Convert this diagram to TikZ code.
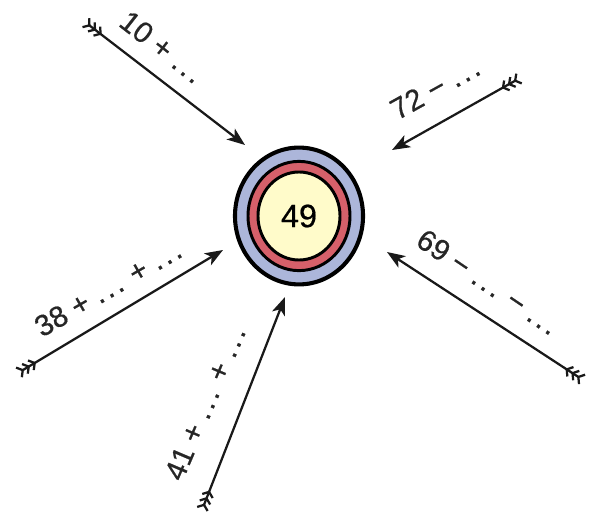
\documentclass[tikz,border=0pt]{standalone}
\usepackage{fontspec}
\setmainfont{Liberation Sans}
\newfontfamily\lblfont{Liberation Sans}[FakeBold=0.6]
\usetikzlibrary{arrows.meta,shapes.geometric}
\definecolor{ringblue}{RGB}{172,182,218}
\definecolor{ringred}{RGB}{214,96,106}
\definecolor{bull}{RGB}{255,251,202}
\newcommand\ddd{.\hspace{0.1em}.\hspace{0.1em}.}

\begin{document}
\begin{tikzpicture}[x=0.025cm, y=-0.025cm,
  ring/.style={draw, ellipse, inner sep=0pt, line width=2.1pt},
  lbl/.style={font=\lblfont\fontsize{21}{25}\selectfont, text=black!85, inner sep=1pt},
  arrow/.style={{Straight Barb[reversed,length=1.1mm,width=2.8mm]Straight Barb[reversed,length=1.1mm,width=2.8mm]Straight Barb[reversed,length=1.1mm,width=2.8mm]}-{Stealth[length=4.5mm,width=3.4mm,inset=1.2mm]}, line width=1.6pt, black!90}]
\useasboundingbox (0,0) rectangle (598,519);
% target
\node[ring, line width=2.9pt, fill=ringblue, minimum width=3.2cm, minimum height=3.42cm] (outer) at (299,216) {};
\node[ring, fill=ringred, minimum width=2.55cm, minimum height=2.73cm] (middle) at (outer.center) {};
\node[ring, fill=bull, minimum width=2.05cm, minimum height=2.2cm, font=\lblfont\fontsize{23}{27}\selectfont] (target) at (outer.center) {49};
% arrows
\coordinate (t1) at (85,22);
\coordinate (h1) at (245,145);
\draw[arrow] (t1) -- (h1);
\node[lbl, rotate=-38] (l1) at (162,47) {10 + \ddd};
\coordinate (t2) at (520,78);
\coordinate (h2) at (392,150);
\draw[arrow] (t2) -- (h2);
\node[lbl, rotate=29] (l2) at (435,88) {72 − \ddd};
\coordinate (t3) at (18,373);
\coordinate (h3) at (223,250);
\draw[arrow] (t3) -- (h3);
\node[lbl, rotate=30] (l3) at (108,288) {38 + \ddd{} + \ddd};
\coordinate (t4) at (202,510);
\coordinate (h4) at (285,297);
\draw[arrow] (t4) -- (h4);
\node[lbl, rotate=67] (l4) at (205,403) {41 + \ddd{} + \ddd};
\coordinate (t5) at (583,380);
\coordinate (h5) at (387,252);
\draw[arrow] (t5) -- (h5);
\node[lbl, rotate=-34] (l5) at (488,282) {69 − \ddd{} − \ddd};
\end{tikzpicture}
\end{document}
